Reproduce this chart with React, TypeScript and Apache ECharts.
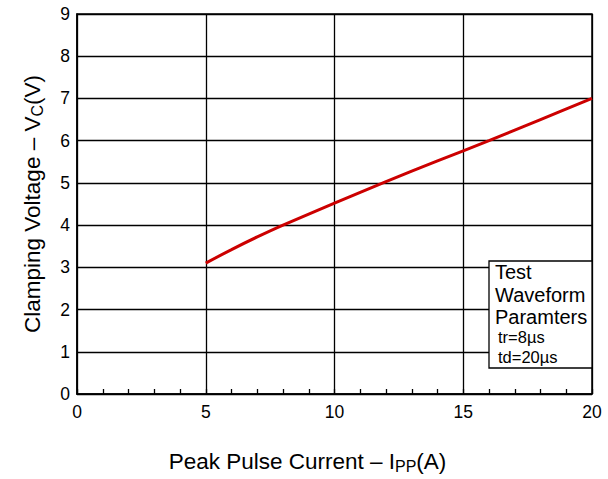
import React, { useEffect, useRef } from "react";
import * as echarts from "echarts";

const currentA = [5, 6, 7, 8, 10, 12, 14, 16, 18, 20];
const clampV = [3.1, 3.42, 3.72, 4.0, 4.52, 5.03, 5.52, 6.0, 6.5, 7.0];
const xTicks = [0, 5, 10, 15, 20];
const yTicks = [0, 1, 2, 3, 4, 5, 6, 7, 8, 9];
const boxLines = ["Test", "Waveform", "Paramters"];
const boxSubLines = ["tr=8µs", "td=20µs"];

const FONT = "Liberation Sans, Arial, sans-serif";

export default function App() {
  const ref = useRef<HTMLDivElement>(null);
  useEffect(() => {
    if (!ref.current) return;
    const chart = echarts.init(ref.current, null, { renderer: "svg" });
    const data = currentA.map((x, i) => [x, clampV[i]]);
    const graphics: any[] = [
      {
        type: "rect",
        shape: { x: 489, y: 261, width: 103, height: 107 },
        style: { fill: "#fff", stroke: "#000", lineWidth: 1.3 },
        z: 100,
      },
    ];
    boxLines.forEach((t, i) => {
      graphics.push({
        type: "text",
        x: 495,
        y: 272 + i * 22.5,
        style: { text: t, fontSize: 20, fontFamily: FONT, fill: "#000", verticalAlign: "middle" },
        z: 101,
      });
    });
    boxSubLines.forEach((t, i) => {
      graphics.push({
        type: "text",
        x: 498,
        y: 337 + i * 20,
        style: { text: t, fontSize: 16.5, fontFamily: FONT, fill: "#000", verticalAlign: "middle" },
        z: 101,
      });
    });
    const nameStyle = (pad: number[]) => ({
      fontSize: 22.5,
      color: "#000",
      fontFamily: FONT,
      lineHeight: 26,
      padding: pad,
      rich: {
        sub: { fontSize: 16, lineHeight: 16, verticalAlign: "bottom", color: "#000", fontFamily: FONT },
      },
    });
    chart.setOption({
      animation: false,
      textStyle: { fontFamily: FONT },
      grid: {
        left: 77,
        right: 16,
        top: 14,
        bottom: 82,
        show: true,
        borderColor: "#000",
        borderWidth: 1.5,
      },
      xAxis: {
        type: "value",
        min: xTicks[0],
        max: xTicks[xTicks.length - 1],
        interval: 5,
        name: "Peak Pulse Current – I{sub|PP}(A)",
        nameLocation: "middle",
        nameGap: 54,
        nameTextStyle: nameStyle([0, 54, 0, 0]),
        axisLine: { show: true, lineStyle: { color: "#000", width: 1.5 } },
        axisTick: { show: true, inside: true, length: 5, lineStyle: { color: "#000", width: 1.3 } },
        minorTick: { show: true, splitNumber: 5, length: 5, lineStyle: { color: "#000", width: 1.3 } },
        axisLabel: { fontSize: 17.5, color: "#000", margin: 9, fontFamily: FONT },
        splitLine: { show: true, lineStyle: { color: "#000", width: 1.3 } },
      },
      yAxis: {
        type: "value",
        min: yTicks[0],
        max: yTicks[yTicks.length - 1],
        interval: 1,
        name: "Clamping Voltage – V{sub|C}(V)",
        nameLocation: "middle",
        nameGap: 32,
        nameTextStyle: nameStyle([0, 0, 0, 0]),
        axisLine: { show: true, lineStyle: { color: "#000", width: 1.5 } },
        axisTick: { show: false },
        axisLabel: { fontSize: 17.5, color: "#000", margin: 7, fontFamily: FONT },
        splitLine: { show: true, lineStyle: { color: "#000", width: 1.3 } },
      },
      series: [
        {
          type: "line",
          data,
          smooth: 0.3,
          showSymbol: false,
          lineStyle: { color: "#cc0000", width: 3 },
          z: 5,
        },
      ],
      graphic: graphics,
    });
    return () => chart.dispose();
  }, []);
  return (
    <div
      ref={ref}
      style={{ position: "fixed", left: 0, top: 0, width: 608, height: 479, background: "#fff" }}
    />
  );
}
